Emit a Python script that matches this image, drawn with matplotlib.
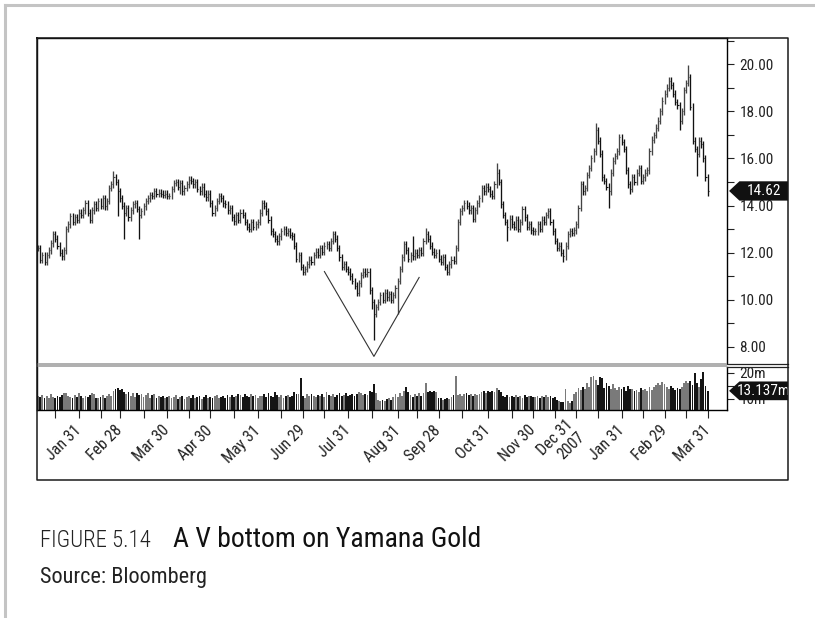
import matplotlib.pyplot as plt
import numpy as np
import pandas as pd
from matplotlib.lines import Line2D
from matplotlib.patches import Polygon, Rectangle

plt.rcParams['font.family'] = ['Roboto Condensed', 'Archivo Narrow', 'DejaVu Sans']

# trading calendar (NYSE holidays removed)
holidays = ["2007-01-15", "2007-02-19", "2007-04-06", "2007-05-28", "2007-07-04",
            "2007-09-03", "2007-11-22", "2007-12-25", "2008-01-01", "2008-01-21",
            "2008-02-18", "2008-03-21"]

# daily closes, one line per month (Jan 2007 .. Mar 2008)
closes = [
    12.2, 11.7, 11.9, 11.6, 11.9, 12.1, 12.4, 12.8, 12.6, 12.3, 12.0, 11.85, 12.1, 13.0, 13.2, 13.55, 13.3, 13.5, 13.4, 13.7,
    13.6, 13.8, 14.1, 13.7, 13.4, 13.8, 14.05, 13.9, 14.2, 14.0, 14.3, 13.97, 14.2, 14.75, 14.9, 15.2, 15.0, 14.6, 14.3,
    14.0, 13.7, 13.9, 13.5, 13.8, 14.05, 14.1, 13.85, 13.6, 13.75, 13.97, 14.2, 14.3, 14.45, 14.4, 14.6, 14.5, 14.55, 14.5, 14.45, 14.5, 14.4,
    14.4, 14.7, 14.96, 15.0, 14.8, 14.95, 14.6, 14.75, 14.9, 15.1, 15.05, 14.9, 15.0, 14.7, 14.6, 14.8, 14.5, 14.35, 14.5, 14.1,
    13.7, 13.9, 14.2, 14.4, 14.3, 14.1, 14.05, 13.8, 13.9, 13.5, 13.33, 13.6, 13.4, 13.7, 13.6, 13.3, 13.1, 13.0, 13.3, 13.1, 13.2, 13.3,
    13.7, 14.1, 14.0, 13.76, 13.4, 12.9, 12.8, 12.6, 12.48, 12.7, 12.9, 13.0, 12.85, 12.9, 12.75, 12.7, 12.3, 11.75, 11.9, 11.4, 11.2,
    11.3, 11.5, 11.7, 11.6, 11.9, 12.05, 11.9, 12.2, 12.05, 12.3, 12.35, 12.2, 12.5, 12.8, 12.6, 12.2, 11.8, 11.4, 11.5, 11.3, 11.2,
    11.0, 10.8, 10.6, 10.3, 10.7, 11.05, 11.2, 11.1, 11.2, 10.4, 9.9, 9.4, 9.7, 9.9, 10.2, 10.0, 10.3, 10.1, 10.25, 10.0, 10.2, 10.5, 10.8,
    11.3, 11.8, 12.35, 12.1, 11.75, 11.9, 11.85, 12.0, 11.9, 12.1, 12.0, 12.5, 12.8, 12.6, 12.3, 12.05, 11.9, 12.0, 11.75,
    11.6, 11.8, 11.4, 11.2, 11.5, 11.7, 11.65, 12.2, 13.3, 13.75, 13.9, 14.1, 14.0, 13.8, 13.9, 13.45, 13.8, 14.1, 14.3, 14.75, 14.6, 14.8, 14.7,
    14.5, 14.4, 14.9, 15.4, 15.0, 14.05, 13.6, 13.3, 13.1, 13.45, 13.2, 13.1, 13.4, 13.0, 13.3, 13.85, 13.5, 13.1, 13.2, 12.95, 12.9,
    12.9, 13.2, 13.0, 13.4, 13.3, 13.6, 13.75, 13.3, 12.9, 12.5, 12.2, 12.3, 12.0, 11.85, 12.3, 12.8, 12.9, 12.85, 12.95, 13.2,
    13.9, 14.9, 14.6, 14.75, 15.3, 15.6, 16.0, 16.3, 17.2, 16.75, 16.2, 15.2, 15.05, 14.8, 14.6, 15.4, 15.9, 16.1, 16.3, 16.9, 16.7,
    16.4, 15.5, 14.9, 14.7, 15.2, 15.0, 15.4, 15.6, 15.05, 15.2, 15.4, 15.5, 16.3, 16.8, 17.0, 17.3, 17.6, 18.0, 18.45, 18.75,
    19.0, 19.3, 19.1, 18.75, 18.4, 18.25, 17.6, 18.0, 18.9, 19.2, 19.45, 18.2, 16.75, 16.4, 16.2, 16.75, 16.6, 16.0, 15.2, 14.62,
]

# intraday extremes that stick out beyond the close-to-close move
extra_lows = {37: 13.55, 40: 12.6, 47: 12.6, 66: 14.5, 155: 9.6, 156: 8.3, 167: 9.4,
              218: 12.5, 244: 11.6, 265: 13.9, 275: 14.5, 298: 17.2, 306: 15.25, 311: 14.4}
extra_highs = {35: 15.45, 156: 10.0, 174: 12.7, 180: 13.05, 213: 15.8, 259: 17.5,
               270: 17.05, 302: 19.95}

# daily volume in millions
volumes = [
    11.2, 10.8, 11.5, 10.2, 11.0, 10.5, 11.8, 10.9, 10.3, 11.1, 10.6, 11.4, 12.4, 12.3, 11.0, 10.7, 10.2, 11.5, 10.8, 12.4,
    11.0, 10.4, 11.2, 10.6, 11.6, 12.3, 12.0, 10.5, 10.2, 10.8, 11.5, 10.3, 11.1, 12.0, 11.3, 13.2, 13.8, 14.3, 13.6,
    14.0, 12.6, 11.8, 12.5, 11.2, 12.2, 10.8, 12.4, 11.5, 12.0, 10.9, 11.7, 12.3, 10.5, 11.6, 12.1, 10.4, 11.0, 10.6, 11.3, 10.2, 10.9,
    11.2, 10.3, 10.8, 11.5, 10.1, 10.6, 11.3, 9.9, 10.7, 11.0, 10.4, 11.4, 10.2, 10.8, 11.1, 10.0, 10.6, 11.5, 10.3, 10.9,
    10.5, 11.0, 11.6, 10.2, 10.8, 11.3, 10.4, 11.7, 10.9, 11.4, 10.6, 11.2, 12.0, 11.5, 10.8, 11.9, 11.1, 10.7, 11.8, 11.0, 11.6, 10.5,
    11.3, 11.0, 11.8, 10.6, 12.4, 11.2, 10.9, 12.5, 11.4, 10.8, 11.5, 10.4, 11.1, 11.7, 10.6, 11.2, 12.6, 11.9, 12.0, 18.2, 11.0,
    10.5, 11.8, 11.3, 12.1, 11.0, 10.8, 11.6, 11.2, 11.9, 10.7, 12.6, 11.4, 11.1, 11.8, 10.9, 11.5, 12.2, 11.0, 11.7, 12.4, 11.3,
    11.6, 12.0, 11.2, 11.8, 12.5, 12.3, 11.4, 12.1, 11.7, 13.0, 12.6, 15.8, 12.4, 9.6, 9.4, 9.8, 9.3, 9.9, 10.2, 9.7, 10.6, 11.8, 10.9,
    12.2, 11.0, 13.2, 14.7, 12.5, 11.6, 10.8, 12.0, 11.3, 12.4, 11.1, 12.2, 16.0, 12.6, 13.0, 12.8, 13.1, 12.5, 10.3,
    10.2, 9.8, 10.1, 10.4, 9.9, 10.6, 11.4, 18.8, 11.6, 12.0, 11.2, 11.8, 12.2, 11.5, 11.9, 11.3, 12.1, 11.7, 12.0, 12.6, 12.9, 12.4, 13.0,
    12.7, 13.2, 12.5, 14.1, 13.3, 12.8, 11.2, 10.8, 11.5, 10.6, 11.3, 10.9, 11.6, 10.7, 11.1, 10.5, 11.4, 10.8, 11.0, 11.2, 10.6,
    10.9, 11.3, 10.5, 11.1, 10.8, 11.4, 10.6, 11.0, 10.3, 10.7, 9.6, 9.2, 8.7, 9.0, 14.0, 9.1, 8.6, 9.3, 11.8, 12.6,
    14.2, 13.6, 14.5, 13.8, 16.0, 14.8, 18.5, 19.0, 17.2, 15.5, 18.6, 18.0, 14.2, 16.2, 15.0, 13.8, 15.6, 14.1, 13.4, 14.8, 13.9,
    14.5, 13.2, 15.1, 13.7, 14.0, 13.1, 13.6, 12.8, 14.2, 13.4, 13.9, 12.9, 14.6, 13.3, 14.8, 15.2, 16.1, 15.4, 16.5, 15.8,
    14.6, 13.8, 15.0, 14.2, 13.5, 14.4, 13.9, 14.8, 16.3, 16.8, 16.0, 17.1, 15.2, 20.0, 16.2, 14.5, 17.5, 20.5, 15.0, 13.137,
]

tick_dates = ["2007-01-31", "2007-02-28", "2007-03-30", "2007-04-30", "2007-05-31",
              "2007-06-29", "2007-07-31", "2007-08-31", "2007-09-28", "2007-10-31",
              "2007-11-30", "2007-12-31", "2008-01-31", "2008-02-29", "2008-03-31"]
tick_labels = ["Jan 31", "Feb 28", "Mar 30", "Apr 30", "May 31", "Jun 29", "Jul 31",
               "Aug 31", "Sep 28", "Oct 31", "Nov 30", "Dec 31\n2007", "Jan 31",
               "Feb 29", "Mar 31"]
mid_dates = ["2007-01-16", "2007-02-14", "2007-03-15", "2007-04-16", "2007-05-15",
             "2007-06-15", "2007-07-16", "2007-08-15", "2007-09-14", "2007-10-15",
             "2007-11-15", "2007-12-14", "2008-01-15", "2008-02-14", "2008-03-14"]

# V annotation drawn on the chart (date, price)
v_dates = ["2007-07-16", "2007-08-16", "2007-09-17"]
v_prices = [11.2, 7.6, 10.95]

last_price = "14.62"
last_volume = "13.137m"

# ---------------------------------------------------------------
dates = pd.bdate_range("2007-01-03", "2008-03-31")
dates = dates[~dates.isin(pd.to_datetime(holidays))]
n = min(len(dates), len(closes), len(volumes))
dates = dates[:n]
c = np.array(closes[:n])
vol = np.array(volumes[:n])
x = np.arange(n)


def pos(d):
    return dates.searchsorted(pd.Timestamp(d))


opens = np.r_[c[0], c[:-1]]
lows = np.minimum(opens, c) - 0.14
highs = np.maximum(opens, c) + 0.14
for k, v in extra_lows.items():
    if k < n:
        lows[k] = min(lows[k], v)
for k, v in extra_highs.items():
    if k < n:
        highs[k] = max(highs[k], v)
up = c >= opens

W, H = 815, 618
fig = plt.figure(figsize=(W / 100, H / 100), dpi=100)
L, R = 37, 727
ax_p = fig.add_axes([L / W, 1 - 363 / H, (R - L) / W, 325 / H])
ax_v = fig.add_axes([L / W, 1 - 410 / H, (R - L) / W, 43 / H], sharex=ax_p)

# price bars
bar_col = np.where(up, "#444444", "#111111")
ax_p.vlines(x, lows, highs, colors=bar_col, linewidth=0.95)
ax_p.hlines(c, x, x + 0.5, colors=bar_col, linewidth=0.8)

# V lines
vx = [pos(d) for d in v_dates]
ax_p.plot(vx, v_prices, color="#333333", linewidth=0.8)

ax_p.set_xlim(-0.5, 320)
ax_p.set_ylim(7.32, 21.11)
ax_p.yaxis.tick_right()
ax_p.set_yticks(np.arange(8, 21, 2))
ax_p.set_yticklabels([f"{v:.2f}" for v in np.arange(8, 21, 2)])
ax_p.set_yticks(np.arange(9, 22, 2), minor=True)
ax_p.tick_params(axis="y", which="both", direction="out", length=5, width=0.8,
                 pad=4, labelsize=11, colors="#222222")
ax_p.tick_params(axis="x", which="both", bottom=False, labelbottom=False)
ax_p.spines["bottom"].set_visible(False)
for s in ["top", "left", "right"]:
    ax_p.spines[s].set_linewidth(1.0)

# volume bars
vol_col = np.where(up, "#7a7a7a", "#151515")
ax_v.bar(x, vol, width=0.85, color=vol_col, linewidth=0)
ax_v.set_ylim(5.77, 22.3)
ax_v.yaxis.tick_right()
ax_v.set_yticks([10, 20])
ax_v.set_yticklabels(["10m", "20m"])
ax_v.set_yticks([15], minor=True)
ax_v.tick_params(axis="y", which="both", direction="out", length=5, width=0.8,
                 pad=4, labelsize=11, colors="#222222")
ax_v.spines["top"].set_visible(False)
for s in ["bottom", "left", "right"]:
    ax_v.spines[s].set_linewidth(1.0)

ax_v.set_xticks([pos(d) for d in tick_dates])
ax_v.set_xticklabels(tick_labels, rotation=45, ha="right", va="center",
                     rotation_mode="anchor", fontsize=11.5, multialignment="right")
ax_v.set_xticks([pos(d) for d in mid_dates], minor=True)
ax_v.tick_params(axis="x", which="both", direction="out", length=6, width=0.8,
                 pad=7, colors="#222222")

# separator between panels
fig.add_artist(Rectangle((L / W, 1 - 367 / H), (R - L) / W, 4 / H,
                         transform=fig.transFigure, facecolor="#b0b0b0",
                         edgecolor="none"))
for yy in (363.5, 367):
    fig.add_artist(Line2D([R / W, 788 / W], [1 - yy / H] * 2, transform=fig.transFigure,
                          color="#222222", linewidth=0.9))

# outer chart box
box = [(37, 38), (788, 38), (788, 480), (37, 480), (37, 38)]
fig.add_artist(Line2D([p[0] / W for p in box], [1 - p[1] / H for p in box],
                      transform=fig.transFigure, color="#1a1a1a", linewidth=1.1))

# page frame (light grey)
fig.add_artist(Line2D([5 / W, 1], [1 - 5 / H] * 2, transform=fig.transFigure,
                      color="#c4c4c4", linewidth=2.2))
fig.add_artist(Line2D([5 / W] * 2, [0, 1 - 5 / H], transform=fig.transFigure,
                      color="#c4c4c4", linewidth=2.2))


def value_tag(ax, value, text, half):
    tr = ax.get_yaxis_transform()
    x0, x1, x2 = 1.003, 1.018, (788 - L) / (R - L)
    pts = [(x0, value), (x1, value + half), (x2, value + half),
           (x2, value - half), (x1, value - half)]
    ax.add_patch(Polygon(pts, closed=True, transform=tr, facecolor="#111111",
                         edgecolor="none", clip_on=False, zorder=5))
    ax.text((x1 + x2) / 2, value, text, transform=tr, color="white", fontsize=11,
            ha="center", va="center", clip_on=False, zorder=6)


value_tag(ax_p, float(last_price), last_price, 0.41)
value_tag(ax_v, vol[-1], last_volume, 3.6)

# caption
fig.text(40 / W, 1 - 547 / H, "FIGURE 5.14", fontsize=16.5, va="baseline",
         color="#222222", fontweight="light")
fig.text(173 / W, 1 - 547 / H, "A V bottom on Yamana Gold", fontsize=20,
         va="baseline", color="#111111")
fig.text(40 / W, 1 - 583 / H, "Source: Bloomberg", fontsize=16, va="baseline",
         color="#222222")

fig.savefig("out.png", dpi=100)
